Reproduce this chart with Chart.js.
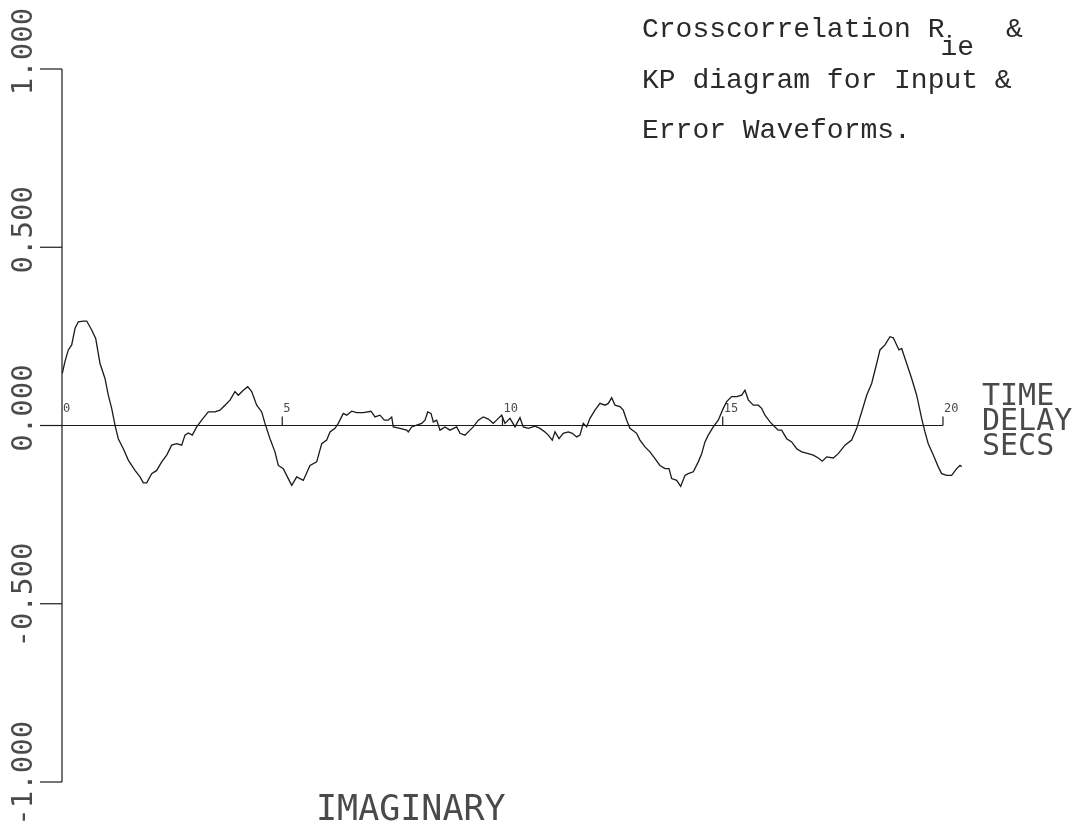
<!DOCTYPE html>
<html>
<head>
<meta charset="utf-8">
<title>Crosscorrelation R_ie</title>
<script src="https://cdn.jsdelivr.net/npm/chart.js@4.4.1/dist/chart.umd.min.js"></script>
<style>
    body { margin: 0; background: #fff; }
    #wrap { width: 1075px; height: 824px; position: relative; }
</style>
</head>
<body>
<div id="wrap"><canvas id="myChart" width="1075" height="824"></canvas></div>
<script>
// time delay (secs) and crosscorrelation value
const lagSecs = [
    0.007, 0.068, 0.143, 0.220, 0.295, 0.370, 0.484, 0.561, 0.674, 0.765,
    0.863, 0.976, 1.051, 1.128, 1.203, 1.278, 1.392, 1.505, 1.657, 1.771,
    1.846, 1.923, 2.036, 2.150, 2.263, 2.377, 2.490, 2.604, 2.717, 2.792,
    2.867, 2.958, 3.058, 3.171, 3.321, 3.473, 3.587, 3.700, 3.814, 3.927,
    4.002, 4.116, 4.216, 4.306, 4.420, 4.534, 4.608, 4.722, 4.835, 4.910,
    5.024, 5.137, 5.215, 5.328, 5.478, 5.630, 5.782, 5.896, 6.009, 6.084,
    6.198, 6.272, 6.386, 6.463, 6.577, 6.690, 6.840, 7.015, 7.106, 7.219,
    7.317, 7.407, 7.485, 7.521, 7.673, 7.825, 7.861, 7.939, 8.052, 8.166,
    8.241, 8.302, 8.377, 8.429, 8.506, 8.581, 8.695, 8.808, 8.960, 9.035,
    9.149, 9.262, 9.337, 9.451, 9.564, 9.678, 9.791, 9.905, 9.982, 10.057,
    10.170, 10.284, 10.397, 10.472, 10.586, 10.738, 10.851, 10.965, 11.040, 11.130,
    11.192, 11.283, 11.380, 11.494, 11.585, 11.684, 11.759, 11.834, 11.911, 11.986,
    12.100, 12.213, 12.327, 12.402, 12.479, 12.554, 12.667, 12.742, 12.819, 12.894,
    13.046, 13.121, 13.235, 13.348, 13.462, 13.575, 13.689, 13.780, 13.841, 13.955,
    14.045, 14.143, 14.218, 14.332, 14.445, 14.522, 14.597, 14.672, 14.785, 14.899,
    15.012, 15.090, 15.203, 15.317, 15.430, 15.505, 15.580, 15.694, 15.807, 15.884,
    15.959, 16.073, 16.186, 16.261, 16.338, 16.452, 16.565, 16.679, 16.792, 16.942,
    17.056, 17.169, 17.260, 17.360, 17.510, 17.623, 17.775, 17.927, 18.041, 18.154,
    18.268, 18.381, 18.495, 18.570, 18.683, 18.797, 18.872, 18.949, 19.001, 19.062,
    19.176, 19.289, 19.403, 19.516, 19.591, 19.666, 19.780, 19.893, 19.970, 20.084,
    20.197, 20.311, 20.386, 20.424
];
const rValues = [
    0.146, 0.180, 0.212, 0.226, 0.272, 0.291, 0.293, 0.293, 0.268, 0.244,
    0.174, 0.132, 0.085, 0.048, 0.001, -0.037, -0.065, -0.097, -0.126, -0.144,
    -0.161, -0.161, -0.135, -0.126, -0.102, -0.083, -0.055, -0.051, -0.055, -0.027,
    -0.021, -0.027, -0.004, 0.015, 0.038, 0.038, 0.043, 0.057, 0.071, 0.095,
    0.085, 0.099, 0.109, 0.095, 0.057, 0.038, 0.006, -0.037, -0.074, -0.112,
    -0.121, -0.149, -0.168, -0.144, -0.154, -0.112, -0.102, -0.051, -0.041, -0.018,
    -0.008, 0.006, 0.034, 0.029, 0.040, 0.036, 0.036, 0.040, 0.024, 0.029,
    0.015, 0.015, 0.024, -0.004, -0.008, -0.013, -0.018, -0.004, 0.001, 0.006,
    0.015, 0.038, 0.034, 0.010, 0.015, -0.013, -0.004, -0.013, -0.004, -0.022,
    -0.027, -0.013, -0.004, 0.015, 0.024, 0.018, 0.006, 0.020, 0.029, 0.006,
    0.020, -0.004, 0.022, -0.004, -0.008, -0.002, -0.008, -0.018, -0.027, -0.041,
    -0.018, -0.037, -0.022, -0.018, -0.022, -0.032, -0.027, 0.006, -0.004, 0.020,
    0.043, 0.062, 0.057, 0.062, 0.078, 0.057, 0.053, 0.043, 0.015, -0.008,
    -0.022, -0.041, -0.060, -0.074, -0.093, -0.112, -0.121, -0.121, -0.149, -0.154,
    -0.171, -0.140, -0.135, -0.130, -0.102, -0.079, -0.046, -0.027, -0.004, 0.015,
    0.048, 0.067, 0.081, 0.081, 0.085, 0.099, 0.072, 0.057, 0.057, 0.048,
    0.029, 0.010, -0.004, -0.013, -0.013, -0.037, -0.046, -0.065, -0.074, -0.079,
    -0.083, -0.091, -0.100, -0.088, -0.091, -0.079, -0.055, -0.041, -0.008, 0.038,
    0.085, 0.118, 0.174, 0.212, 0.226, 0.249, 0.246, 0.226, 0.212, 0.216,
    0.174, 0.132, 0.085, 0.020, -0.018, -0.051, -0.083, -0.116, -0.135, -0.140,
    -0.140, -0.121, -0.112, -0.116
];

const yTicks = [1, 0.5, 0, -0.5, -1];
const yTickLabels = ['1.000', '0.500', '0.000', '-0.500', '-1.000'];
const xTicks = [0, 5, 10, 15, 20];
const xTickLabels = ['0', '5', '10', '15', '20'];

const titleLines = ['Crosscorrelation R', 'KP diagram for Input &', 'Error Waveforms.'];
const axisTitle = ['TIME', 'DELAY', 'SECS'];
const bottomLabel = 'IMAGINARY';

const INK = '#1a1a1a';
const PEN_TEXT = '#4a4a4a'; // plotter lettering is drawn with a thin pen
const TYPE_TEXT = '#2a2a2a';
const PLOTTER_FONT = '"DejaVu Sans Mono", monospace';
const TYPEWRITER_FONT = '"Liberation Mono", "Courier New", monospace';

// draws the plotter style axes, ticks and all the text from the scales
const plotterAxes = {
    id: 'plotterAxes',
    beforeDatasetsDraw(chart) {
        const ctx = chart.ctx;
        const xs = chart.scales.x;
        const ys = chart.scales.y;
        const x0 = xs.getPixelForValue(0);
        const y0 = ys.getPixelForValue(0);
        const tickLen = 22;

        ctx.save();
        ctx.strokeStyle = INK;
        ctx.lineWidth = 1.2;

        // vertical axis
        ctx.beginPath();
        ctx.moveTo(x0, ys.getPixelForValue(1));
        ctx.lineTo(x0, ys.getPixelForValue(-1));
        ctx.stroke();

        yTicks.forEach(v => {
            const py = ys.getPixelForValue(v);
            ctx.beginPath();
            ctx.moveTo(x0 - tickLen, py);
            ctx.lineTo(x0, py);
            ctx.stroke();
        });

        // time axis at zero
        ctx.beginPath();
        ctx.moveTo(x0 - tickLen, y0);
        ctx.lineTo(xs.getPixelForValue(20), y0);
        ctx.stroke();

        xTicks.forEach(t => {
            if (t === 0) return;
            const px = xs.getPixelForValue(t);
            ctx.beginPath();
            ctx.moveTo(px, y0);
            ctx.lineTo(px, y0 - 9);
            ctx.stroke();
        });

        // small time tick labels
        ctx.fillStyle = PEN_TEXT;
        ctx.font = '12px ' + PLOTTER_FONT;
        ctx.textAlign = 'left';
        ctx.textBaseline = 'alphabetic';
        xTicks.forEach((t, i) => {
            const px = xs.getPixelForValue(t);
            ctx.fillText(xTickLabels[i], px + 1, y0 - 14);
        });

        // rotated value labels, decimal point lined up with the tick
        ctx.font = '29px ' + PLOTTER_FONT;
        yTicks.forEach((v, i) => {
            const py = ys.getPixelForValue(v);
            const label = yTickLabels[i];
            const dot = label.indexOf('.');
            const before = ctx.measureText(label.slice(0, dot)).width;
            const dotW = ctx.measureText('.').width;
            ctx.save();
            ctx.translate(32, py);
            ctx.rotate(-Math.PI / 2);
            ctx.fillText(label, -(before + dotW / 2), 0);
            ctx.restore();
        });
        ctx.restore();
    },
    afterDraw(chart) {
        const ctx = chart.ctx;
        ctx.save();
        ctx.textAlign = 'left';
        ctx.textBaseline = 'alphabetic';

        // typed caption, top right
        ctx.fillStyle = TYPE_TEXT;
        ctx.font = '28px ' + TYPEWRITER_FONT;
        ctx.fillText(titleLines[0], 642, 37);
        const rEnd = 642 + ctx.measureText(titleLines[0]).width;
        ctx.fillText('ie', rEnd - 4, 55);
        ctx.fillText('&', 1006, 37);
        ctx.fillText(titleLines[1], 642, 88);
        ctx.fillText(titleLines[2], 642, 138);

        // axis title at the right end of the time axis
        ctx.fillStyle = PEN_TEXT;
        ctx.font = '30px ' + PLOTTER_FONT;
        axisTitle.forEach((w, i) => ctx.fillText(w, 982, 405 + i * 25));

        ctx.font = '35px ' + PLOTTER_FONT;
        ctx.fillText(bottomLabel, 316, 820);
        ctx.restore();
    }
};

const points = lagSecs.map((t, i) => ({ x: t, y: rValues[i] }));

const myChart = new Chart(document.getElementById('myChart').getContext('2d'), {
    type: 'line',
    data: {
        datasets: [{
            data: points,
            borderColor: INK,
            borderWidth: 1.3,
            pointRadius: 0,
            tension: 0,
            fill: false
        }]
    },
    options: {
        responsive: false,
        animation: false,
        layout: { padding: { left: 62, right: 110, top: 69, bottom: 42 } },
        plugins: { legend: { display: false }, tooltip: { enabled: false } },
        scales: {
            x: { type: 'linear', min: 0, max: 20.5, display: false },
            y: { type: 'linear', min: -1, max: 1, display: false }
        }
    },
    plugins: [plotterAxes]
});
</script>
</body>
</html>
